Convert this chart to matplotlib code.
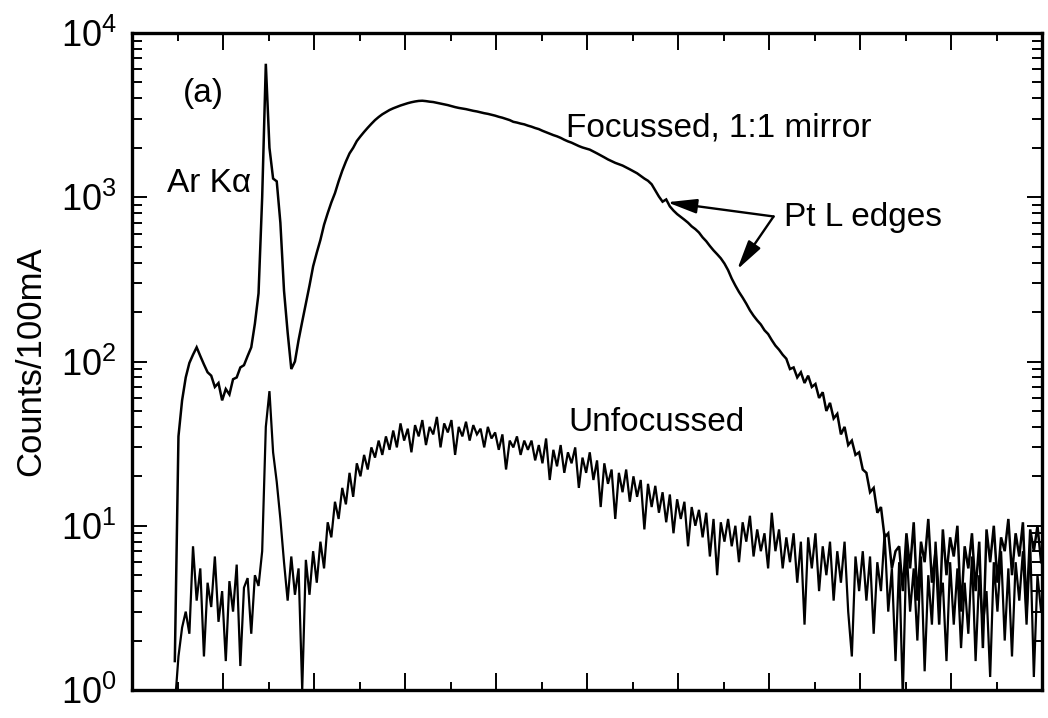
import numpy as np
import matplotlib
matplotlib.use("Agg")
import matplotlib.pyplot as plt

plt.rcParams['font.family'] = ['Liberation Sans', 'DejaVu Sans']
plt.rcParams['mathtext.fontset'] = 'custom'
plt.rcParams['mathtext.rm'] = 'Liberation Sans'
plt.rcParams['mathtext.it'] = 'Liberation Sans:italic'
plt.rcParams['mathtext.default'] = 'regular'

# channel axis (arbitrary energy units, 0..10)
x_start = 0.47
x_step = 0.04

# Focussed, 1:1 mirror (counts / 100 mA)
focussed = [
    1.5, 35, 58, 80, 98, 110, 122, 108, 96, 86,
    82, 70, 74, 58, 68, 63, 78, 80, 92, 95,
    108, 122, 170, 260, 1000, 6500, 2000, 1300, 1250, 700,
    270, 150, 90, 100, 135, 175, 225, 290, 380, 460,
    550, 680, 800, 930, 1060, 1250, 1450, 1650, 1850, 2000,
    2200, 2350, 2500, 2650, 2800, 2950, 3080, 3200, 3300, 3400,
    3480, 3550, 3620, 3680, 3740, 3790, 3830, 3860, 3870, 3850,
    3820, 3800, 3760, 3720, 3680, 3640, 3590, 3540, 3500, 3470,
    3440, 3400, 3360, 3330, 3290, 3250, 3220, 3180, 3140, 3090,
    3050, 3000, 2950, 2880, 2850, 2810, 2780, 2730, 2690, 2640,
    2600, 2540, 2490, 2440, 2390, 2350, 2300, 2240, 2190, 2150,
    2100, 2050, 2010, 1980, 1950, 1900, 1850, 1800, 1750, 1700,
    1660, 1620, 1590, 1560, 1520, 1480, 1440, 1400, 1350, 1300,
    1260, 1200, 1100, 1010, 940, 970, 880, 830, 790, 760,
    730, 700, 665, 640, 610, 570, 540, 505, 475, 450,
    425, 395, 360, 320, 290, 265, 245, 225, 205, 190,
    178, 168, 155, 147, 135, 125, 118, 110, 104, 90,
    92, 80, 86, 74, 82, 70, 73, 60, 65, 50,
    56, 45, 48, 36, 40, 31, 33, 27, 28, 22,
    21, 16, 17, 12, 13, 8.5, 9, 5.5, 7, 7.5,
    4, 9, 5.5, 10.5, 3.5, 8, 6, 11, 4.5, 7,
    2.5, 9.5, 5, 8.5, 6.5, 10, 3, 7.5, 5.5, 9,
    4, 8, 1.8, 9.5, 6, 10, 4.5, 8.5, 7, 11,
    5, 9, 6.5, 10.5, 3, 9.5, 7, 10, 6,
]

# Unfocussed (counts / 100 mA)
unfocussed = [
    0.8, 1.6, 2.4, 3.0, 2.2, 7.5, 3.5, 5.5, 1.6, 4.5,
    3.2, 6.5, 2.6, 4.0, 1.5, 4.6, 3.0, 5.8, 1.4, 4.2,
    4.8, 2.2, 5.0, 4.3, 7.0, 40, 66, 28, 18.5, 11,
    6, 3.5, 6.5, 3.8, 5.5, 1.0, 6.2, 3.8, 7.0, 4.5,
    8.0, 5.5, 10.5, 8.5, 14, 11, 17, 13.5, 21, 15,
    24, 20, 27, 22, 30, 26, 33, 27, 35, 29,
    38, 30, 42, 33, 39, 28, 41, 35, 44, 31,
    40, 36, 46, 30, 42, 37, 44, 27, 40, 35,
    43, 33, 41, 36, 39, 30, 40, 34, 37, 29,
    36, 22, 33, 30, 35, 27, 33, 29, 33, 25,
    31, 24, 34, 19, 29, 23, 31, 21, 28, 24,
    30, 17, 26, 21, 28, 19, 25, 13, 24, 18,
    22, 11, 21, 16, 22, 14, 20, 15, 19, 9.5,
    18, 13, 17.5, 12, 16, 10.5, 15.5, 9, 14.5, 11,
    14, 7.5, 13, 10, 12.5, 8.5, 12, 6.5, 11, 5,
    10.5, 8, 11, 7.5, 10, 6, 10.5, 8, 11.5, 6.5,
    9.5, 7, 9, 5.5, 12, 7, 9.5, 5.5, 8.5, 6,
    9, 4.5, 8, 2.5, 8.5, 5.5, 9, 4, 7.5, 5,
    8, 3.5, 7, 4.5, 8, 3, 1.6, 6.5, 4, 7,
    3.5, 6.5, 2.2, 6, 4, 9, 3, 5.5, 1.5, 6,
    0.9, 7.5, 3, 5.5, 2, 6.5, 1.3, 5, 2.5, 8,
    3.5, 4.5, 1.5, 6, 2.5, 5.5, 1.8, 4.5, 2.2, 6.5,
    1.5, 5, 2.5, 4, 1.2, 6, 3, 7, 2, 5.5,
    1.6, 6, 3.5, 7, 2.5, 8, 1.2, 5, 3,
]

x_f = x_start + x_step * np.arange(len(focussed))
x_u = x_start + x_step * np.arange(len(unfocussed))

fig = plt.figure(figsize=(10.48, 7.18), dpi=100)
ax = fig.add_axes([0.126, 0.039, 0.8683, 0.915])

ax.plot(x_f, focussed, color='black', lw=1.8, solid_joinstyle='miter')
ax.plot(x_u, unfocussed, color='black', lw=1.6, solid_joinstyle='miter')

ax.set_yscale('log')
ax.set_xlim(0, 10)
ax.set_ylim(1, 1e4)

ax.set_xticks(np.arange(0, 11, 1))
ax.set_xticks(np.arange(0.5, 10, 1), minor=True)
ax.tick_params(axis='x', which='both', labelbottom=False)
ax.tick_params(axis='x', which='major', direction='in', length=12, width=1.4, top=True, bottom=True)
ax.tick_params(axis='x', which='minor', direction='in', length=6, width=1.4, top=True, bottom=True)
ax.tick_params(axis='y', which='major', direction='in', length=11, width=1.4, left=True, right=True,
               labelsize=26, pad=11)
ax.tick_params(axis='y', which='minor', direction='in', length=7, width=1.4, left=True, right=True)
for s in ax.spines.values():
    s.set_linewidth(2.4)

ax.set_ylabel('Counts/100mA', fontsize=25, labelpad=10)

ax.text(0.56, 3800, '(a)', fontsize=24, va='baseline', ha='left')
ax.text(0.385, 1070, 'Ar K\u03b1', fontsize=24, va='baseline', ha='left')
ax.text(4.77, 2350, 'Focussed, 1:1 mirror', fontsize=24, va='baseline', ha='left')
ax.text(7.16, 665, 'Pt L edges', fontsize=24, va='baseline', ha='left')
ax.text(4.80, 38, 'Unfocussed', fontsize=24, va='baseline', ha='left')

arrow_kw = dict(arrowstyle='-|>,head_length=0.9,head_width=0.22', color='black', lw=1.7,
                shrinkA=0, shrinkB=0, mutation_scale=20)
ax.annotate('', xy=(5.88, 933), xytext=(7.05, 764), arrowprops=arrow_kw)
ax.annotate('', xy=(6.65, 363), xytext=(7.05, 764), arrowprops=arrow_kw)

fig.savefig('out.png', dpi=100)
